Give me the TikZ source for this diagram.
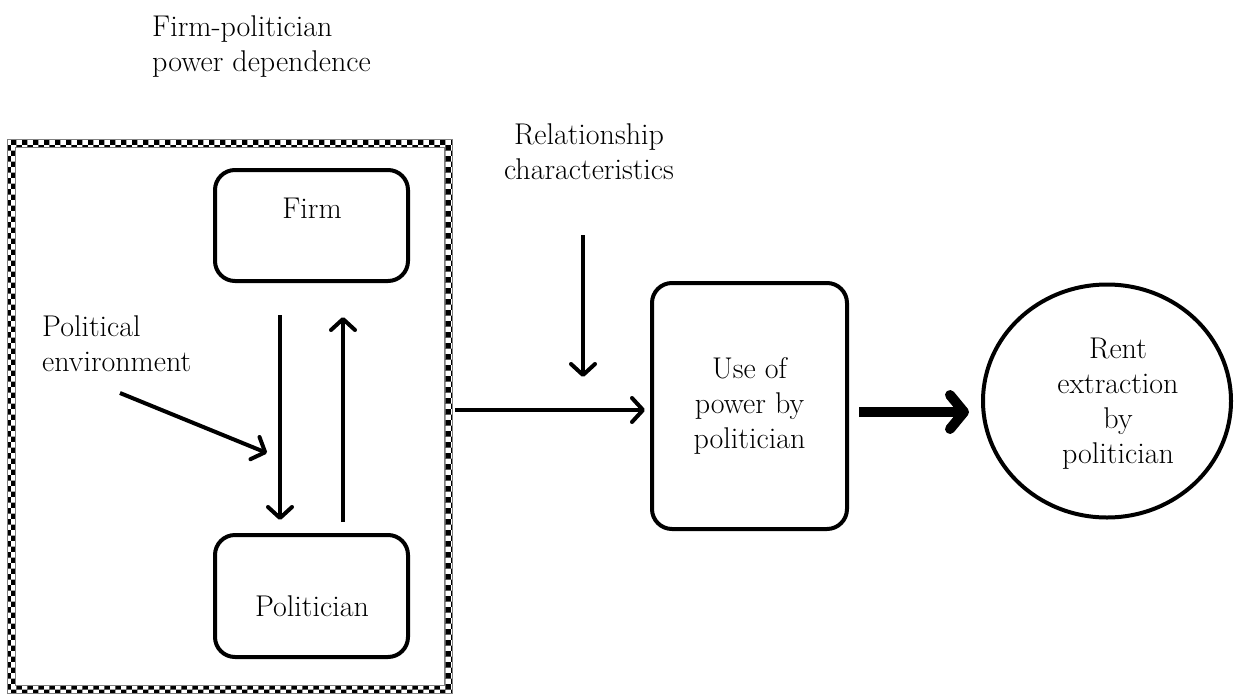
\documentclass[tikz,border=0pt]{standalone}
\usetikzlibrary{arrows.meta,patterns,shapes.geometric}
\begin{document}
\begin{tikzpicture}[x=1pt,y=-1pt,
  txt/.style={inner sep=0pt, font=\fontsize{30}{35}\selectfont},
  rbox/.style={draw, line width=4pt, rounded corners=20pt, inner sep=0pt},
  arr/.style={line width=4pt, -{Straight Barb[length=11pt,width=24pt,round]}},
  bigarr/.style={line width=10pt, -{Straight Barb[length=14pt,width=34pt,round]}}]
\useasboundingbox (0,0) rectangle (1235,694);
% frame with checkerboard border
\fill[pattern=checkerboard, even odd rule] (7,139) rectangle (452,693) (15,147) rectangle (444,685);
\draw[gray, line width=0.8pt] (7,139) rectangle (452,693);
\draw[gray, line width=0.8pt] (15,147) rectangle (444,685);
\coordinate (frameE) at (455,410);
% texts
\node[txt, anchor=west, align=left] (fpd) at (152,47) {Firm-politician\\power dependence};
\node[txt, align=center] (rel) at (589,152) {Relationship\\characteristics};
\node[txt, anchor=west, align=left] (pol) at (42,344) {Political\\environment};
% boxes
\node[rbox, minimum width=193pt, minimum height=111pt] (firm) at (311.5,225.5) {};
\node[txt] (firmt) at (312,208) {Firm};
\node[rbox, minimum width=193pt, minimum height=122pt] (polit) at (311.5,596) {};
\node[txt] (politt) at (312,606) {Politician};
\node[rbox, minimum width=195pt, minimum height=246pt, align=center, font=\fontsize{30}{35}\selectfont] (use) at (749.5,406) {Use of\\power by\\politician};
\node[draw, ellipse, line width=4pt, minimum width=248pt, minimum height=233pt] (rent) at (1107,401) {};
\node[txt, align=center] (rentt) at (1118,404) {Rent\\extraction\\by\\politician};
% arrow end points
\coordinate (d1) at (280,315); \coordinate (d2) at (280,520);
\coordinate (u1) at (343,522); \coordinate (u2) at (343,317);
\coordinate (pe1) at (120,393); \coordinate (pe2) at (267,453);
\coordinate (r1) at (583,235); \coordinate (r2) at (583,377);
\path ([xshift=10pt,yshift=-6pt]use.east) coordinate (t1);
% arrows
\draw[arr] (d1) -- (d2);
\draw[arr] (u1) -- (u2);
\draw[arr] (pe1) -- (pe2);
\draw[arr] (r1) -- (r2);
\draw[arr, shorten >=5pt] (frameE) -- (frameE -| use.west);
\draw[bigarr, shorten >=12pt] (t1) -- (t1 -| rent.west);
\end{tikzpicture}
\end{document}
